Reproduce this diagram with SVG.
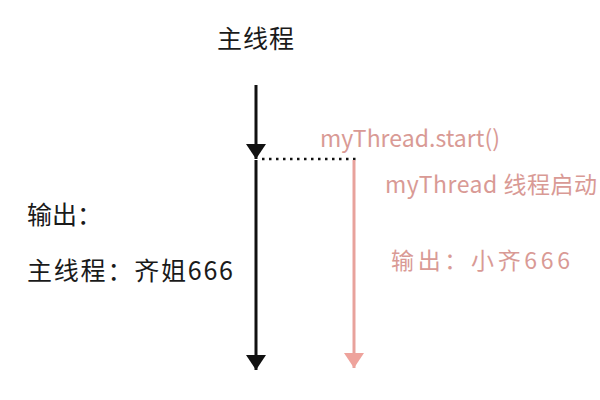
<svg xmlns="http://www.w3.org/2000/svg" width="600" height="400" viewBox="0 0 600 400">
<style>
.blk{font-family:"Noto Sans CJK SC","Noto Sans",sans-serif;fill:#1a1a1a;font-size:25px}
.pnk{font-family:"Noto Sans CJK SC","Noto Sans",sans-serif;fill:#d99a95;font-size:23px}
.lb{stroke:#111;stroke-width:3;fill:none}
.lp{stroke:#e8a29c;stroke-width:3;fill:none}
</style>
<defs>
<marker id="ab" markerWidth="20" markerHeight="16" refX="10" refY="15" orient="0" markerUnits="userSpaceOnUse" viewBox="0 0 20 16">
<path d="M0,0 L20,0 L10,15 Z" fill="#111"/>
</marker>
<marker id="ap" markerWidth="20" markerHeight="16" refX="10" refY="15" orient="0" markerUnits="userSpaceOnUse" viewBox="0 0 20 16">
<path d="M0,0 L20,0 L10,15 Z" fill="#eea39c"/>
</marker>
</defs>
<rect width="600" height="400" fill="#ffffff"/>
<g id="main-title"><text class="blk" x="217" y="48" textLength="77" font-size="26">主线程</text></g>
<g id="main-output">
<text class="blk" x="27" y="224">输出：</text>
<text class="blk" x="27" y="280" textLength="206">主线程：齐姐666</text>
</g>
<g id="thread-labels">
<text class="pnk" x="320" y="147" textLength="180">myThread.start()</text>
<text class="pnk" x="385" y="193" textLength="212">myThread 线程启动</text>
<text class="pnk" x="391" y="269" textLength="179">输出：小齐666</text>
</g>
<g id="connectors">
<line class="lb" x1="256" y1="85" x2="256" y2="159" marker-end="url(#ab)"/>
<line class="lb" x1="256" y1="160" x2="256" y2="370" marker-end="url(#ab)"/>
<line x1="262" y1="159" x2="356" y2="159" stroke="#111" stroke-width="2.5" stroke-dasharray="2.5,4.5"/>
<line class="lp" x1="354" y1="160" x2="354" y2="368" marker-end="url(#ap)"/>
</g>
</svg>
